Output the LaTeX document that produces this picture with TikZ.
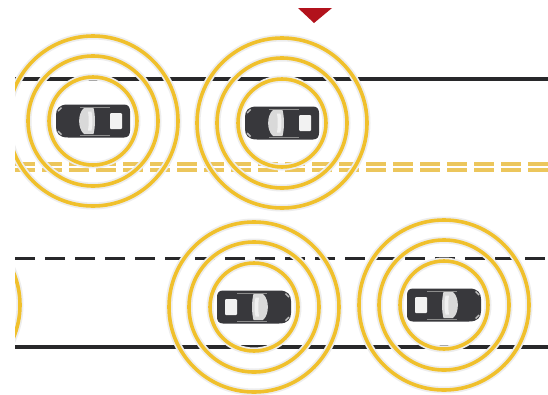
\documentclass[tikz,border=0pt]{standalone}
\definecolor{ringyellow}{RGB}{240,192,44}
\definecolor{roadgray}{RGB}{40,40,42}
\definecolor{centreyellow}{RGB}{236,198,92}
\definecolor{carbody}{RGB}{56,56,60}
\definecolor{markerred}{RGB}{178,18,28}
\begin{document}
\begin{tikzpicture}[x=1pt,y=-1pt,
  ringcol/.style={draw=ringyellow, line width=3.6pt},
  ringhalo/.style={draw=black!7, line width=7pt},
  roadline/.style={draw=roadgray, line width=4pt},
  lanedash/.style={draw=roadgray, line width=3pt, dash pattern=on 20pt off 10pt},
  centredash/.style={draw=centreyellow, line width=3.2pt, dash pattern=on 20pt off 7pt},
  car/.pic={
    % body
    \fill[carbody]
      (-31,-16.5) -- (25,-16.5) .. controls (34,-16.5) and (37,-12) .. (37,-6)
      -- (37,6) .. controls (37,12) and (34,16.5) .. (25,16.5)
      -- (-31,16.5) .. controls (-35,16.5) and (-37,14) .. (-37,10)
      -- (-37,-10) .. controls (-37,-14) and (-35,-16.5) .. (-31,-16.5) -- cycle;
    % headlight notches
    \fill[black!25] (32,-14) -- (35.5,-10.5) -- (34.5,-9.5) -- (31,-13) -- cycle;
    \fill[black!25] (32,14) -- (35.5,10.5) -- (34.5,9.5) -- (31,13) -- cycle;
    % windshield
    \fill[black!15]
      (-0.5,-13) .. controls (-2.5,-5) and (-2.5,5) .. (-0.5,13)
      -- (9,13) .. controls (15.5,7.5) and (15.5,-7.5) .. (9,-13) -- cycle;
    \fill[white!94!black]
      (1.5,-9.5) .. controls (0.2,-3) and (0.2,3) .. (1.5,9.5)
      -- (5,9.5) .. controls (4,3) and (4,-3) .. (5,-9.5) -- cycle;
    % rear window
    \fill[white!95!black, rounded corners=1pt] (-29,-8) rectangle (-17,8);
    % door lines
    \draw[black!45, line width=0.6pt] (-17,-14) -- (13,-14) (-17,14) -- (13,14);
  }
]
\useasboundingbox (0,0) rectangle (548,394);
\fill[white] (0,0) rectangle (548,394);

% car positions
\coordinate (c1) at (93,121);
\coordinate (c2) at (282,123);
\coordinate (c3) at (254,307);
\coordinate (c4) at (444,305);
\coordinate (c0) at (-65,305);

\begin{scope}
\clip (15,8) rectangle (548,394);

% road markings
\coordinate (tl) at (15,79);   \coordinate (tr) at (548,79);
\coordinate (yl1) at (15,164); \coordinate (yr1) at (548,164);
\coordinate (yl2) at (15,170); \coordinate (yr2) at (548,170);
\coordinate (dl) at (15,258);  \coordinate (dr) at (548,258);
\coordinate (bl) at (15,347);  \coordinate (br) at (548,347);
\draw[roadline] (tl) -- (tr);
\draw[centredash] (yl1) -- (yr1);
\draw[centredash] (yl2) -- (yr2);
\draw[lanedash] (dl) -- (dr);
\draw[roadline] (bl) -- (br);

% marker
\fill[markerred] (298,8) -- (332,8) -- (314,23) -- cycle;

% signal rings
\foreach \c in {c1,c2,c3,c4} {
  \foreach \r in {44,65,85} {
    \draw[ringhalo] (\c) circle (\r);
  }
}
\draw[ringhalo] (c0) circle (85);
\foreach \c in {c1,c2,c3,c4} {
  \foreach \r in {44,65,85} {
    \draw[ringcol] (\c) circle (\r);
  }
}
\draw[ringcol] (c0) circle (85);

% cars
\pic[xscale=-1] at (c1) {car};
\pic[xscale=-1] at (c2) {car};
\pic at (c3) {car};
\pic at (c4) {car};
\end{scope}
\end{tikzpicture}
\end{document}
